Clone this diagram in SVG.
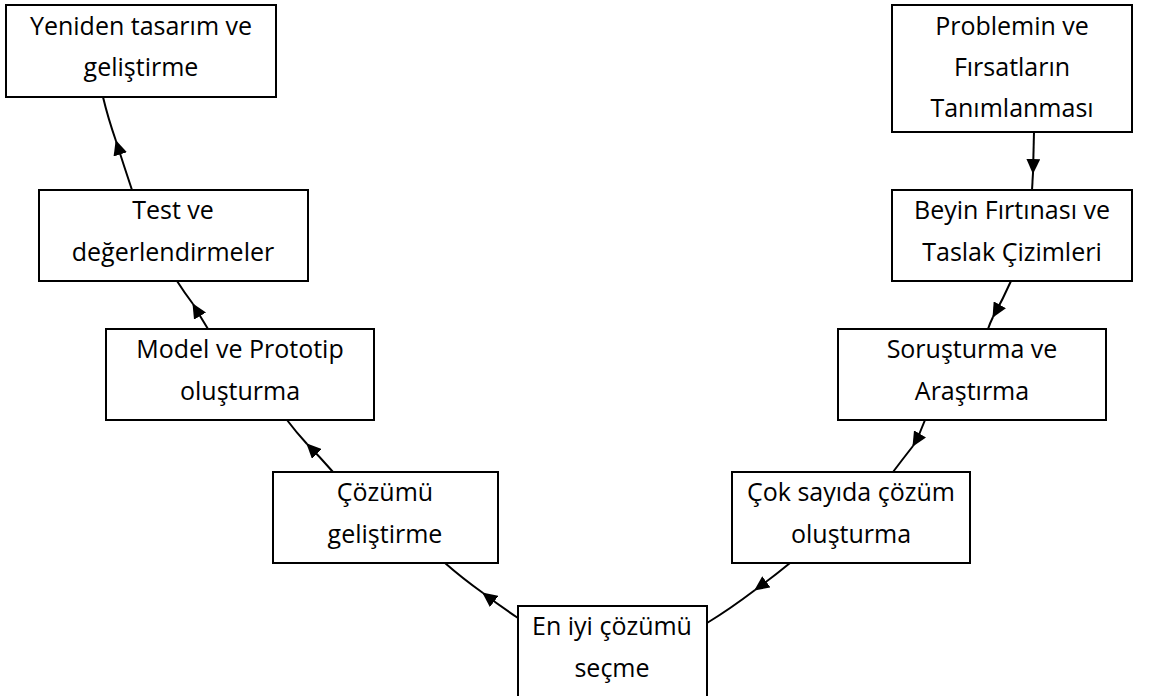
<svg xmlns="http://www.w3.org/2000/svg" width="1153" height="696" viewBox="0 0 1153 696">
<style>
.box{fill:#fff;stroke:#000;stroke-width:2}
.t{font-family:"Open Sans","Liberation Sans",sans-serif;font-size:25px;fill:#000;text-anchor:middle}
.c{fill:none;stroke:#000;stroke-width:2}
</style>
<defs>
<marker id="ah" markerUnits="userSpaceOnUse" markerWidth="15" markerHeight="14" refX="14" refY="7" orient="auto">
<path d="M0,0 L15,7 L0,14 z" fill="#000"/>
</marker>
</defs>
<rect width="1153" height="696" fill="#fff"/>
<g id="connectors">
<path class="c" d="M132,190 Q124,166 116,141" marker-end="url(#ah)"/>
<path class="c" d="M116,141 Q108,118 103,97"/>
<path class="c" d="M208,329 Q200,316 193,304" marker-end="url(#ah)"/>
<path class="c" d="M193,304 Q184,292 177,281"/>
<path class="c" d="M333,472 Q320,457 307,444" marker-end="url(#ah)"/>
<path class="c" d="M307,444 Q296,432 287,420"/>
<path class="c" d="M518,618 Q500,606 483,593" marker-end="url(#ah)"/>
<path class="c" d="M483,593 Q462,578 445,563"/>
<path class="c" d="M790,563 Q773,577 755,590" marker-end="url(#ah)"/>
<path class="c" d="M755,590 Q730,609 707,623"/>
<path class="c" d="M925,420 Q920,434 913,446" marker-end="url(#ah)"/>
<path class="c" d="M913,446 Q902,460 893,472"/>
<path class="c" d="M1011,281 Q1003,299 993,317" marker-end="url(#ah)"/>
<path class="c" d="M993,317 Q990,323 988,329"/>
<path class="c" d="M1034,132 L1033,173" marker-end="url(#ah)"/>
<path class="c" d="M1033,173 L1032,190"/>
</g>
<g id="n1"><rect class="box" x="6" y="5" width="270" height="92"/><text class="t" x="141" y="35">Yeniden tasarım ve</text><text class="t" x="141" y="76">geliştirme</text></g>
<g id="n2"><rect class="box" x="39" y="190" width="269" height="91"/><text class="t" x="173" y="219">Test ve</text><text class="t" x="173" y="261">değerlendirmeler</text></g>
<g id="n3"><rect class="box" x="106" y="329" width="268" height="91"/><text class="t" x="240" y="358">Model ve Prototip</text><text class="t" x="240" y="400">oluşturma</text></g>
<g id="n4"><rect class="box" x="273" y="472" width="225" height="91"/><text class="t" x="385" y="501">Çözümü</text><text class="t" x="385" y="543">geliştirme</text></g>
<g id="n5"><rect class="box" x="518" y="606" width="189" height="100"/><text class="t" x="612" y="635">En iyi çözümü</text><text class="t" x="612" y="677">seçme</text></g>
<g id="n6"><rect class="box" x="732" y="472" width="238" height="91"/><text class="t" x="851" y="501">Çok sayıda çözüm</text><text class="t" x="851" y="543">oluşturma</text></g>
<g id="n7"><rect class="box" x="838" y="329" width="268" height="91"/><text class="t" x="972" y="358">Soruşturma ve</text><text class="t" x="972" y="400">Araştırma</text></g>
<g id="n8"><rect class="box" x="892" y="190" width="240" height="91"/><text class="t" x="1012" y="219">Beyin Fırtınası ve</text><text class="t" x="1012" y="261">Taslak Çizimleri</text></g>
<g id="n9"><rect class="box" x="892" y="5" width="240" height="127"/><text class="t" x="1012" y="35">Problemin ve</text><text class="t" x="1012" y="76">Fırsatların</text><text class="t" x="1012" y="117">Tanımlanması</text></g>
</svg>
